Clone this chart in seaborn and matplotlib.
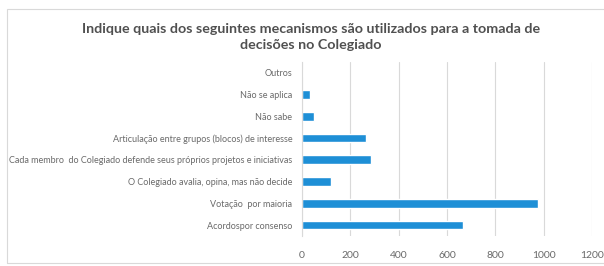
import numpy as np
import pandas as pd
import seaborn as sns
import matplotlib.pyplot as plt
from matplotlib.patches import Rectangle

# categories (top to bottom) and counts
categorias = [
    "Outros",
    "Não se aplica",
    "Não sabe",
    "Articulação entre grupos (blocos) de interesse",
    "Cada membro  do Colegiado defende seus próprios projetos e iniciativas",
    "O Colegiado avalia, opina, mas não decide",
    "Votação  por maioria",
    "Acordospor consenso",
]
valores = [4, 33, 48, 264, 284, 120, 978, 666]
xticks = [0, 200, 400, 600, 800, 1000, 1200]

df = pd.DataFrame({"categoria": categorias, "valor": valores})

sns.set_style("white")
plt.rcParams['font.family'] = ['Lato', 'DejaVu Sans']

fig = plt.figure(figsize=(6.04, 2.66), dpi=100)
ax = fig.add_axes([0.5, 0.113, 0.48, 0.654])

sns.barplot(data=df, y="categoria", x="valor", color="#1e8fd6",
            width=0.4, ax=ax, saturation=1)

ax.set_xlim(0, 1200)
ax.set_xticks(xticks)
ax.set_xlabel("")
ax.set_ylabel("")
ax.xaxis.grid(True, color="#d9d9d9", linewidth=0.8)
ax.set_axisbelow(True)
for s in ["top", "right", "bottom"]:
    ax.spines[s].set_visible(False)
ax.spines["left"].set_color("#d9d9d9")
ax.tick_params(axis="both", length=0, labelsize=6.5, labelcolor="#6a6a6a")
ax.tick_params(axis="x", labelsize=7.5, pad=11)
ax.tick_params(axis="y", pad=7)

# outer chart frame
fig.patches.append(Rectangle((0.011, 0.01), 1.0, 0.955, transform=fig.transFigure,
                             fill=False, edgecolor="#d9d9d9", linewidth=0.8))

fig.text(0.515, 0.862, "Indique quais dos seguintes mecanismos são utilizados para a tomada de\ndecisões no Colegiado",
         ha="center", va="center", fontsize=10.3, fontweight="bold", color="#505050", linespacing=1.4)

fig.savefig("out.png", dpi=100)
